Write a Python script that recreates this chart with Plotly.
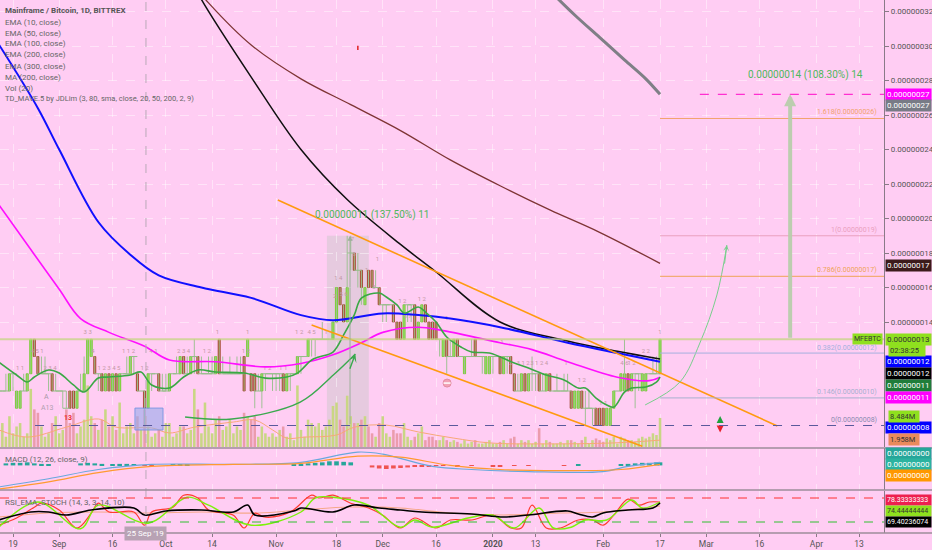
import plotly.graph_objects as go
from datetime import datetime, timedelta

BASE = datetime(2019, 8, 14)


def D(d):
    return BASE + timedelta(days=d)


# Daily candles in satoshi (1e-8 BTC): [open, high, low, close], first row = 2019-08-14
ohlc = [
    [11, 11, 10, 10], [10, 11, 9, 10], [10, 10, 10, 10], [10, 11, 10, 10], [10, 11, 10, 11],
    [11, 11, 10, 11], [9, 10, 9, 10], [9, 10, 9, 10], [10, 11, 10, 10], [10, 11, 10, 11],
    [11, 13, 11, 13], [13, 13, 12, 12], [12, 12, 11, 11], [11, 12, 11, 11], [11, 12, 11, 11],
    [11, 11, 10, 11], [11, 11, 10, 10], [10, 11, 10, 10], [10, 10, 10, 10], [10, 10, 9, 10],
    [9, 10, 9, 9], [10, 10, 9, 9], [10, 10, 9, 9], [9, 10, 9, 10], [10, 11, 10, 10],
    [10, 12, 10, 11], [11, 13, 11, 13], [12, 13, 12, 13], [12, 12, 11, 11], [11, 11, 10, 11],
    [11, 11, 10, 10], [10, 11, 10, 11], [11, 11, 10, 10], [10, 11, 10, 11], [11, 11, 10, 10],
    [10, 11, 10, 11], [11, 11, 11, 11], [11, 12, 11, 11], [11, 12, 11, 12], [12, 12, 11, 12],
    [11, 11, 10, 10], [10, 10, 10, 10], [10, 10, 8, 9], [9, 11, 9, 11], [11, 11, 10, 11],
    [11, 11, 11, 11], [11, 11, 10, 10], [10, 11, 10, 10], [10, 11, 10, 10], [10, 11, 10, 11],
    [11, 11, 11, 11], [11, 12, 11, 11], [11, 12, 11, 12], [12, 12, 11, 11], [11, 12, 11, 11],
    [11, 12, 11, 12], [12, 13, 11, 12], [12, 12, 11, 11], [11, 12, 11, 11], [11, 11, 11, 11],
    [11, 12, 11, 11], [11, 12, 11, 11], [11, 12, 11, 12], [13, 13, 11, 11], [11, 12, 11, 11],
    [11, 11, 11, 11], [11, 12, 11, 11], [11, 11, 11, 11], [11, 12, 11, 11], [11, 12, 11, 11],
    [12, 12, 10, 10], [12, 13, 12, 13], [11, 11, 10, 10], [11, 11, 9, 10], [10, 11, 10, 10],
    [10, 11, 9, 11], [11, 11, 10, 11], [11, 11, 11, 11], [11, 11, 10, 11], [11, 11, 10, 11],
    [11, 11, 10, 11], [11, 11, 10, 10], [10, 11, 10, 11], [11, 11, 10, 11], [11, 11, 11, 11],
    [11, 12, 11, 12], [12, 12, 11, 12], [12, 12, 12, 12], [12, 13, 12, 13], [13, 13, 12, 13],
    [13, 13, 12, 13], [13, 13, 13, 13], [13, 14, 13, 13], [13, 13, 13, 13], [13, 13, 13, 13],
    [13, 14, 13, 14], [14, 16, 14, 16], [16, 16, 15, 15], [15, 15, 14, 14], [14, 19, 14, 16],
    [18, 19, 17, 18], [18, 18, 17, 17], [17, 18, 16, 17], [17, 17, 15, 16], [15, 16, 15, 16],
    [17, 17, 16, 16], [17, 17, 16, 16], [16, 17, 16, 16], [16, 16, 15, 15], [15, 15, 14, 15],
    [15, 15, 14, 15], [15, 15, 15, 15], [15, 15, 14, 14], [14, 14, 13, 13], [14, 14, 13, 13],
    [13, 15, 13, 15], [15, 15, 14, 15], [15, 15, 14, 15], [15, 15, 13, 13], [13, 14, 13, 14],
    [14, 15, 14, 15], [15, 15, 14, 14], [14, 14, 13, 13], [14, 14, 13, 13], [14, 14, 13, 13],
    [13, 13, 12, 13], [12, 13, 12, 13], [13, 13, 11, 12], [12, 13, 12, 12], [12, 13, 12, 13],
    [13, 13, 12, 12], [12, 12, 12, 12], [11, 12, 11, 12], [12, 12, 12, 12], [12, 13, 12, 12],
    [13, 13, 12, 12], [12, 12, 12, 12], [12, 12, 11, 12], [11, 12, 11, 12], [11, 12, 11, 12],
    [12, 12, 11, 12], [12, 12, 12, 12], [12, 12, 11, 11], [11, 12, 11, 12], [12, 12, 11, 12],
    [12, 12, 11, 11], [11, 11, 10, 10], [10, 11, 10, 10], [10, 11, 10, 11], [11, 11, 10, 10],
    [10, 11, 10, 11], [11, 12, 10, 11], [11, 11, 10, 11], [11, 11, 10, 10], [10, 11, 10, 10],
    [10, 11, 10, 11], [11, 11, 10, 10], [10, 10, 10, 10], [10, 11, 10, 10], [10, 10, 10, 10],
    [10, 11, 10, 10], [10, 11, 10, 10], [10, 10, 9, 9], [9, 10, 9, 10], [9, 10, 9, 10],
    [10, 10, 9, 9], [9, 10, 8, 9], [9, 10, 9, 9], [9, 9, 8, 9], [9, 9, 8, 8],
    [9, 9, 8, 8], [9, 9, 8, 8], [8, 9, 8, 9], [8, 9, 8, 9], [9, 10, 9, 10],
    [10, 10, 10, 10], [10, 11, 10, 11], [10, 13, 10, 11], [11, 11, 10, 10], [10, 11, 10, 11],
    [11, 11, 9, 11], [11, 11, 10, 11], [10, 11, 10, 11], [10, 11, 10, 11], [11, 11, 11, 11],
    [11, 12, 11, 11], [11, 12, 11, 11], [11, 13, 11, 13],
]

# Daily volume, millions of MFE
volume_m = [
    6, 6, 7, 3, 9, 4, 6, 7, 3, 4,
    17, 11, 10, 6, 3, 4, 7, 9, 4, 5,
    11, 7, 10, 4, 6, 8, 18, 9, 7, 5,
    8, 11, 6, 9, 5, 13, 4, 6, 7, 4,
    9, 5, 11, 6, 3, 4, 5, 3, 7, 7,
    3, 4, 6, 6, 4, 5, 17, 11, 4, 13,
    6, 4, 8, 9, 5, 6, 8, 4, 6, 5,
    10, 9, 8, 9, 3, 6, 4, 3, 4, 3,
    5, 6, 3, 4, 2, 18, 5, 3, 8, 7,
    6, 7, 5, 6, 8, 12, 13, 8, 6, 15,
    9, 7, 7, 8, 9, 6, 4, 3, 7, 9,
    4, 3, 5, 4, 4, 7, 3, 2, 3, 4,
    6, 2, 3, 3, 2, 2, 3, 2, 1.5, 2,
    1.5, 1, 2, 1, 1.5, 2, 1, 1, 1.5, 2,
    1, 1, 1.5, 2, 1, 2.5, 3, 1, 2, 1.5,
    2, 1, 1.5, 5.5, 1, 2, 1.5, 1, 1, 1.5,
    1, 2, 2, 1.5, 1, 2, 3, 1, 2, 2.5,
    2, 1.5, 2.5, 2, 3, 1, 3, 2.5, 2, 2,
    1.5, 2.5, 3, 2.5, 3, 4, 3.5, 8.5,
]
volma_days = [1, 9, 20, 29, 34, 44, 49, 56, 67, 73, 78, 82, 87, 96, 101, 110, 119, 129, 139, 155, 174, 187]
volma_vals = [5, 2.9, 5.8, 8.2, 5.8, 5.6, 4.1, 5.8, 7.3, 7.9, 5, 2.6, 2.9, 3.5, 5.8, 6.4, 4.4, 2.6, 1.2, 0.9, 1.2, 2.0]

# TD sequential counts printed over the candles: day, price level, text
td_days = [11.8, 15.4, 7, 26, 27.5, 32, 37.5, 42, 44.5, 53, 59.5, 62.5, 71, 70.5, 76.5, 81, 85.5, 89, 93,
           95.5, 96.5, 98, 100.5, 101, 104.5, 106.5, 107.5, 114.5, 116, 120, 127, 142.5, 145, 148.5, 153,
           160.5, 165, 171, 177, 179, 183, 187]
td_price = [12.3, 11.3, 11.3, 13.4, 12.3, 11.3, 12.3, 11.3, 12.3, 12.3, 12.3, 13.4, 13.4, 12.3, 11.3, 11.3,
            13.4, 13.4, 13.4, 15.5, 16.5, 15.6, 18.8, 17.9, 17.0, 16.0, 17.6, 15.2, 14.3, 15.3, 14.2, 12.8,
            11.6, 11.6, 11.6, 11.6, 10.6, 9.3, 11.6, 11.6, 12.3, 13.4]
td_text = ["4 5 1", "2 3 4", "1 1", "3 3", "4", "1 2 3 4 5", "1 1 2", "1 2", "4 1", "2 3 4", "1 2", "1", "1",
           "1 2", "1 2", "1 1", "1 2", "4 5", "1", "2", "1 4", "5 6", "7", "8", "1", "3", "1", "1 2", "6 7", "1 2",
           "1", "1", "2", "3 1 2", "3 1 2 4", "1", "1 2", "1 1", "4 6", "1 2", "2 2", "1"]

# Moving averages (satoshi), read at sample days
ema10_days = [1, 6, 9, 11, 15, 18, 22, 25, 29, 32, 38, 41, 44, 49, 53, 57, 62, 70, 76, 82, 85, 89, 91, 95, 98,
              101, 103, 108, 110, 113, 115, 119, 121, 124, 127, 131, 134, 139, 146, 150, 155, 160, 164, 166,
              169, 172, 174, 177, 179, 183, 186, 187]
ema10 = [11.68, 10.93, 10.52, 10.81, 11.22, 11.04, 10.35, 9.94, 10.75, 10.81, 10.93, 11.1, 10.35, 10.17, 10.81,
         11.22, 11.1, 11.04, 10.75, 10.81, 11.04, 11.8, 11.97, 12.26, 13.25, 14.41, 15.39, 15.68, 15.45, 14.99,
         14.52, 14.87, 14.58, 14.0, 13.13, 12.55, 12.26, 12.2, 11.62, 11.33, 10.93, 10.64, 10.17, 10.17, 9.59,
         9.19, 9.07, 9.94, 10.17, 10.23, 10.52, 10.81]
ema50_days = [1, 10, 18, 24, 32, 42, 49, 62, 76, 86, 95, 103, 109, 119, 126, 142, 151, 161, 175, 184, 187]
ema50 = [20.8, 18.2, 15.9, 14.2, 13.4, 12.6, 11.8, 11.7, 11.4, 11.6, 12.1, 12.8, 13.4, 13.7, 13.5, 12.8, 12.4,
         11.7, 10.8, 10.6, 10.8]
ema100_days = [1, 12, 18, 29, 38, 46, 58, 72, 86, 95, 109, 119, 128, 142, 161, 175, 187]
ema100 = [30.1, 26.4, 24.0, 19.8, 17.9, 16.7, 16.0, 15.4, 14.4, 14.1, 14.5, 14.4, 14.2, 13.7, 12.8, 12.2, 11.7]
ema200_days = [55, 58, 72, 86, 99, 114, 124, 142, 161, 175, 187]
ema200 = [33.9, 32.7, 28.2, 24.0, 21.1, 18.5, 16.9, 14.0, 12.9, 12.3, 11.85]
ema300_days = [56, 60, 72, 86, 100, 114, 128, 142, 156, 170, 187]
ema300 = [33.5, 32.5, 30.06, 28.1, 26.6, 25.1, 23.4, 21.9, 20.5, 19.2, 17.4]
ma200_days = [157, 163, 170, 177, 183, 187]
ma200 = [33.0, 31.8, 30.5, 29.2, 28.1, 27.2]

# MACD pane (units of 1e-10 BTC)
macd_days = [1, 15, 29, 44, 67, 86, 102, 109, 123, 134, 150, 171, 178, 187]
macd_line = [-2.1, -1.3, -0.4, 0.1, 0.1, 0.3, 1.3, 1.1, -0.1, -0.4, -0.6, -0.6, -0.1, 0.3]
signal_days = [1, 15, 29, 44, 67, 86, 102, 114, 128, 142, 159, 176, 187]
signal_line = [-2.3, -1.6, -0.7, -0.1, 0.1, 0.2, 0.9, 0.8, 0.0, -0.4, -0.5, -0.4, 0.1]
hist_days = [3, 5, 7, 9, 11, 13, 15, 24, 26, 28, 30, 33, 35, 37, 39, 42, 44, 50, 52, 54, 84, 86, 88, 90, 92, 94,
             96, 98, 100, 106, 108, 110, 112, 114, 116, 118, 120, 122, 124, 126, 130, 134, 140, 142, 146, 150,
             160, 164, 176, 178, 180, 182, 184, 186, 187]
hist_vals = [0.2, 0.25, 0.25, 0.3, 0.2, 0.15, 0.1, 0.2, 0.25, 0.2, 0.15, 0.1, 0.15, 0.15, 0.1, -0.05, -0.05, 0.1,
             0.1, 0.05, 0.1, 0.15, 0.2, 0.25, 0.3, 0.4, 0.4, 0.35, 0.3, -0.2, -0.3, -0.35, -0.3, -0.25, -0.2,
             -0.15, -0.1, -0.1, -0.05, -0.05, -0.1, -0.05, -0.1, -0.1, -0.05, -0.05, -0.05, 0.05, 0.1, 0.15,
             0.2, 0.25, 0.25, 0.3, 0.3]

# RSI / stochastic pane (0-100)
stk_days = [1, 6, 11, 13, 18, 23, 27, 29, 32, 39, 42, 44, 50, 53, 57, 60, 67, 70, 73, 76, 83, 89, 91, 95, 100,
            105, 109, 114, 118, 124, 128, 134, 140, 145, 148, 151, 155, 159, 164, 168, 171, 174, 178, 181, 184, 187]
stoch_k = [12, 30, 57, 67, 50, 5, 42, 67, 45, 45, 12, 45, 57, 87, 80, 50, 37, 5, 42, 32, 45, 87, 80, 87, 67, 55,
           37, 5, 30, 5, 25, 25, 37, 5, 5, 62, 5, 5, 25, 25, 12, 37, 77, 62, 70, 70]
std_days = [1, 12, 24, 29, 43, 54, 60, 72, 86, 90, 95, 105, 114, 118, 123, 133, 140, 146, 153, 157, 162, 166,
            172, 179, 182, 187]
stoch_d = [7, 70, 3, 62, 17, 82, 62, 12, 45, 80, 82, 62, 7, 25, 7, 30, 37, 5, 55, 5, 7, 25, 25, 75, 55, 70]
rsi_days = [1, 10, 15, 20, 27, 39, 42, 48, 58, 67, 71, 73, 84, 86, 95, 101, 108, 114, 120, 134, 143, 150, 161,
            164, 168, 171, 178, 185, 187]
rsi_ema = [25, 45, 45, 37.5, 50, 55, 37.5, 47.5, 50, 45, 62.5, 37.5, 47.5, 55, 45, 62.5, 55, 50, 45, 40, 32.5,
           37.5, 47.5, 40, 32.5, 42.5, 50, 55, 67.5]
rsi2_days = [1, 15, 29, 43, 58, 74, 86, 100, 114, 128, 143, 159, 171, 187]
rsi_slow = [32.5, 42.5, 45, 42.5, 45, 42.5, 50, 57.5, 55, 42.5, 37.5, 42.5, 45, 60]

tick_dates = ["2019-08-19", "2019-09-01", "2019-09-16", "2019-10-01", "2019-10-14", "2019-11-01", "2019-11-18",
              "2019-12-01", "2019-12-16", "2020-01-01", "2020-01-13", "2020-02-01", "2020-02-17", "2020-03-01",
              "2020-03-16", "2020-04-01", "2020-04-13"]
tick_text = ["19", "Sep", "16", "Oct", "14", "Nov", "18", "Dec", "16", "<b>2020</b>", "13", "Feb", "17", "Mar",
             "16", "Apr", "13"]
price_ticks = [14, 16, 18, 20, 22, 24, 26, 28, 30, 32]

fib_levels = [(1.618, 25.8, "#f2a36e", "1.618(0.00000026)"), (1, 19, "#eaa0be", "1(0.00000019)"),
              (0.786, 16.65, "#efa457", "0.786(0.00000017)"), (0.382, 12.2, "#a5b0de", "0.382(0.00000012)"),
              (0.146, 9.6, "#a8b0cf", "0.146(0.00000010)"), (0, 8, "#8a8ab0", "0(0.00000008)")]

# ---------------------------------------------------------------------------
BG = "#ffcdf3"
FONT = "Roboto, Liberation Sans, Arial"
W, H = 932, 550
XR = 884 / W
DAYMS = 86400000


def py(p):
    return 1 - p / H


dates = [D(i) for i in range(len(ohlc))]
O = [r[0] for r in ohlc]
Hh = [r[1] for r in ohlc]
L = [r[2] for r in ohlc]
C = [r[3] for r in ohlc]

fig = go.Figure()

# volume (base axis of main pane)
vcol = []
prev = C[0]
for o, c in zip(O, C):
    up = c > o or (c == o and c >= prev)
    vcol.append("#c9d684" if up else "#eb9cad")
    prev = c
fig.add_trace(go.Bar(x=dates, y=volume_m, width=0.72 * DAYMS, marker=dict(color=vcol, line=dict(width=0)),
                     xaxis="x", yaxis="y", hoverinfo="skip"))
fig.add_trace(go.Scatter(x=[D(d) for d in volma_days], y=volma_vals, mode="lines",
                         line=dict(color="#f7a978", width=1, shape="spline"),
                         xaxis="x", yaxis="y", hoverinfo="skip"))

# wicks
wx, wy = [], []
for d, h, l in zip(dates, Hh, L):
    wx += [d, d, None]
    wy += [l, h, None]
fig.add_trace(go.Scatter(x=wx, y=wy, mode="lines", line=dict(color="#9fc193", width=1), xaxis="x", yaxis="y2",
                         hoverinfo="skip"))
# bodies
ux = [d for d, o, c in zip(dates, O, C) if c > o]
uy = [c - o for o, c in zip(O, C) if c > o]
ub = [o for o, c in zip(O, C) if c > o]
dx = [d for d, o, c in zip(dates, O, C) if c < o]
dy = [o - c for o, c in zip(O, C) if c < o]
db = [c for o, c in zip(O, C) if c < o]
fig.add_trace(go.Bar(x=ux, y=uy, base=ub, width=0.62 * DAYMS,
                     marker=dict(color="#7dfb1c", line=dict(color="#5cb816", width=0.6)),
                     xaxis="x", yaxis="y2", hoverinfo="skip"))
fig.add_trace(go.Bar(x=dx, y=dy, base=db, width=0.62 * DAYMS,
                     marker=dict(color="#b9461c", line=dict(color="#8a2f0e", width=0.6)),
                     xaxis="x", yaxis="y2", hoverinfo="skip"))
zx = [d for d, o, c in zip(dates, O, C) if c == o]
zy = [c for o, c in zip(O, C) if c == o]
fig.add_trace(go.Scatter(x=zx, y=zy, mode="markers",
                         marker=dict(symbol="line-ew", size=5, line=dict(color="#95bd88", width=1)),
                         xaxis="x", yaxis="y2", hoverinfo="skip"))
# TD counts
fig.add_trace(go.Scatter(x=[D(d) for d in td_days], y=td_price, mode="text", text=td_text,
                         textfont=dict(size=6, color="#c49aa6", family=FONT), xaxis="x", yaxis="y2",
                         hoverinfo="skip"))


def line(days, vals, color, width, axis="y2", xa="x", dash=None):
    fig.add_trace(go.Scatter(x=[D(d) for d in days], y=vals, mode="lines",
                             line=dict(color=color, width=width, shape="spline", dash=dash),
                             xaxis=xa, yaxis=axis, hoverinfo="skip"))


line(ma200_days, ma200, "#7f7f86", 3)
line(ema300_days, ema300, "#7e3434", 1.3)
line(ema200_days, ema200, "#101010", 1.5)
line(ema100_days, ema100, "#1010ff", 2)
line(ema50_days, ema50, "#ff10ff", 1.6)
line(ema10_days, ema10, "#3aa845", 1.6)

# drawings on main pane
fig.add_trace(go.Scatter(x=[D(79.5), D(220)], y=[21.07, 7.97], mode="lines", line=dict(color="#ff9a10", width=1.6),
                         xaxis="x", yaxis="y2", hoverinfo="skip"))
fig.add_trace(go.Scatter(x=[D(89), D(182)], y=[13.83, 6.8], mode="lines", line=dict(color="#ff9a10", width=1.6),
                         xaxis="x", yaxis="y2", hoverinfo="skip"))
fig.add_trace(go.Scatter(x=[D(d) for d in [53.4, 66.6, 85.8, 95.1, 101.3]], y=[8.49, 8.38, 9.36, 10.93, 12.15],
                         mode="lines", line=dict(color="#3aa94e", width=1.4, shape="spline"), xaxis="x", yaxis="y2",
                         hoverinfo="skip"))
fig.add_trace(go.Scatter(x=[D(d) for d in [182.8, 192.6, 198.2, 203, 205.8]], y=[9.19, 10.52, 12.78, 15.57, 18.46],
                         mode="lines", line=dict(color="#78cf8c", width=1, shape="spline"), xaxis="x", yaxis="y2",
                         hoverinfo="skip"))
fig.add_trace(go.Scatter(x=[D(203.9)], y=[8.55], mode="markers",
                         marker=dict(symbol="arrow-up", size=7, color="#1fa13c"),
                         xaxis="x", yaxis="y2", hoverinfo="skip"))
fig.add_trace(go.Scatter(x=[D(203.9)], y=[7.6], mode="markers",
                         marker=dict(symbol="arrow-down", size=7, color="#e8202a"),
                         xaxis="x", yaxis="y2", hoverinfo="skip"))
fig.add_trace(go.Scatter(x=[D(127.1)], y=[10.46], mode="markers",
                         marker=dict(symbol="circle", size=8, color="#f2a2b6", line=dict(color="#e48ca2", width=1)),
                         xaxis="x", yaxis="y2", hoverinfo="skip"))
fig.add_trace(go.Scatter(x=[D(127.1)], y=[10.46], mode="markers",
                         marker=dict(symbol="line-ew", size=5, line=dict(color="#ffffff", width=1.5)),
                         xaxis="x", yaxis="y2", hoverinfo="skip"))
fig.add_trace(go.Scatter(x=[D(102)], y=[29.9], mode="markers",
                         marker=dict(symbol="line-ns", size=3, line=dict(color="#e02020", width=1.5)),
                         xaxis="x", yaxis="y2", hoverinfo="skip"))

# MACD pane
fig.add_trace(go.Bar(x=[D(d) for d in hist_days], y=hist_vals, width=1.3 * DAYMS,
                     marker=dict(color=["#26a69a" if v > 0 else "#ef5350" for v in hist_vals], line=dict(width=0)),
                     xaxis="x2", yaxis="y3", hoverinfo="skip"))
line(macd_days, macd_line, "#6aa8dc", 1.2, axis="y3", xa="x2")
line(signal_days, signal_line, "#ff9a30", 1.2, axis="y3", xa="x2")

# RSI pane
line(rsi2_days, rsi_slow, "#f6a88a", 1.2, axis="y4", xa="x3")
line(stk_days, stoch_k, "#ff3b30", 1.2, axis="y4", xa="x3")
line(std_days, stoch_d, "#7cf20a", 1.4, axis="y4", xa="x3")
line(rsi_days, rsi_ema, "#000000", 1.6, axis="y4", xa="x3")

# ---------------------------------------------------------------------------
shapes = []
shapes.append(dict(type="rect", xref="x", yref="y2", x0=D(93.3), x1=D(105.1), y0=6.754, y1=19,
                   fillcolor="rgba(200,200,200,0.45)", line=dict(width=0), layer="below"))
shapes.append(dict(type="rect", xref="x", yref="y2", x0=D(39.3), x1=D(47.2), y0=7.74, y1=9.01,
                   fillcolor="rgba(150,170,235,0.6)", line=dict(color="rgba(120,150,225,0.9)", width=1)))
shapes.append(dict(type="line", xref="paper", yref="y2", x0=0, x1=XR, y0=13, y1=13,
                   line=dict(color="rgba(196,212,128,0.75)", width=2.2)))
shapes.append(dict(type="line", xref="x", yref="y2", x0=D(11.2), x1=D(250), y0=8, y1=8,
                   line=dict(color="#5a5a9c", width=1, dash="dash")))
shapes.append(dict(type="line", xref="x", yref="y2", x0=D(198.2), x1=D(250), y0=27.2, y1=27.2,
                   line=dict(color="#ff2fd0", width=1.2, dash="dash")))
for lv, price, col, lbl in fib_levels:
    if lv != 0:
        shapes.append(dict(type="line", xref="x", yref="y2", x0=D(187), x1=D(250), y0=price, y1=price,
                           line=dict(color=col, width=1)))
shapes.append(dict(type="line", xref="x", yref="paper", x0=D(42.4), x1=D(42.4), y0=py(533), y1=1,
                   line=dict(color="#b9a9b7", width=1, dash="dash")))
shapes.append(dict(type="line", xref="paper", yref="y4", x0=0, x1=XR, y0=80, y1=80,
                   line=dict(color="#ff3030", width=1, dash="dash")))
shapes.append(dict(type="line", xref="paper", yref="y4", x0=0, x1=XR, y0=20, y1=20,
                   line=dict(color="#30c030", width=1, dash="dash")))
for yy in (448, 490, 533):
    shapes.append(dict(type="line", xref="paper", yref="paper", x0=0, x1=1, y0=py(yy), y1=py(yy),
                       line=dict(color="#9c8c9a", width=1.3)))

ann = []


def txt(xp, ypx, s, size=8, color="#555555", bold=False, xanchor="left"):
    ann.append(dict(xref="paper", yref="paper", x=xp / W, y=py(ypx), text=("<b>%s</b>" % s) if bold else s,
                    showarrow=False, xanchor=xanchor, yanchor="middle",
                    font=dict(size=size, color=color, family=FONT)))


txt(3, 10, "Mainframe / Bitcoin, 1D, BITTREX", 8, "#555555", True)
legend_lines = ["EMA (10, close)", "EMA (50, close)", "EMA (100, close)", "EMA (200, close)", "EMA (300, close)",
                "MA (200, close)", "Vol (20)", "TD_MAVE.5 by JDLim (3, 80, sma, close, 20, 50, 200, 2, 9)"]
for i, s in enumerate(legend_lines):
    txt(3, 22 + 11 * i, s, 7.5 if i == 7 else 8, "#666666")
txt(3, 460, "MACD (12, 26, close, 9)", 8, "#666666")
txt(3, 502, "RSI_EMA_STOCH (14, 3, 3, 14, 10)", 8, "#666666")

right_labels = [(94, "0.00000027", "#ff00ff", "#ffffff"), (105, "0.00000027", "#787b86", "#ffffff"),
                (265, "0.00000017", "#3c1b1b", "#ffffff"), (339, "0.00000013", "#8fe01e", "#333333"),
                (361, "0.00000012", "#0000ff", "#ffffff"), (373, "0.00000012", "#000000", "#ffffff"),
                (385, "0.00000011", "#1f7d3a", "#ffffff"), (397, "0.00000011", "#ff00ff", "#ffffff"),
                (427, "0.00000008", "#0000ff", "#ffffff"), (453, "0.00000000", "#26a69a", "#ffffff"),
                (464, "0.00000000", "#2bb3a0", "#ffffff"), (475, "0.00000000", "#ff9800", "#ffffff")]
for ypx, s, bg, fg in right_labels:
    ann.append(dict(xref="paper", yref="paper", x=885 / W, y=py(ypx), text=s, showarrow=False, xanchor="left",
                    yanchor="middle", bgcolor=bg, borderpad=1, width=43, align="left",
                    font=dict(size=8, color=fg, family=FONT)))
for ypx, s, bg, fg in [(500, "78.33333333", "#ee1f4f", "#ffffff"), (511, "74.44444444", "#8fe01e", "#333333"),
                       (522, "69.40236074", "#000000", "#ffffff")]:
    ann.append(dict(xref="paper", yref="paper", x=885 / W, y=py(ypx), text=s, showarrow=False, xanchor="left",
                    yanchor="middle", bgcolor=bg, borderpad=1, width=43, align="left",
                    font=dict(size=7, color=fg, family=FONT)))
for ypx, s, bg, fg, w in [(350, "02:38:25", "#8fe01e", "#333333", 34), (416, "8.484M", "#8fe01e", "#333333", 28),
                          (439, "1.958M", "#ea8a5c", "#333333", 28)]:
    ann.append(dict(xref="paper", yref="paper", x=888 / W, y=py(ypx), text=s, showarrow=False, xanchor="left",
                    yanchor="middle", bgcolor=bg, borderpad=1, width=w, align="left",
                    font=dict(size=7.5, color=fg, family=FONT)))
ann.append(dict(xref="paper", yref="paper", x=883 / W, y=py(339), text="MFEBTC", showarrow=False, xanchor="right",
                yanchor="middle", bgcolor="#8fe01e", borderpad=1, font=dict(size=7, color="#333333", family=FONT)))

for lv, price, col, lbl in fib_levels:
    ann.append(dict(xref="paper", yref="y2", x=879 / W, y=price, text=lbl, showarrow=False, xanchor="right",
                    yanchor="bottom", yshift=-1 if lv == 0.382 else 0,
                    font=dict(size=7, color=col, family=FONT)))

ann.append(dict(xref="x", yref="y2", x=D(99.8), y=19, ax=D(99.8), ay=8, axref="x", ayref="y2", showarrow=True,
                arrowhead=2, arrowsize=1, arrowwidth=1, arrowcolor="#9db09a", text=""))
ann.append(dict(xref="x", yref="y2", x=D(106), y=20.2, text="0.00000011 (137.50%) 11", showarrow=False,
                font=dict(size=10, color="#4fb85c", family=FONT)))
ann.append(dict(xref="x", yref="y2", x=D(223.6), y=27.2, ax=D(223.6), ay=13, axref="x", ayref="y2", showarrow=True,
                arrowhead=2, arrowsize=0.6, arrowwidth=4, arrowcolor="rgba(185,205,172,0.95)", text=""))
ann.append(dict(xref="x", yref="y2", x=D(227.8), y=28.3, text="0.00000014 (108.30%) 14", showarrow=False,
                font=dict(size=10, color="#4fb85c", family=FONT)))
ann.append(dict(xref="x", yref="y2", x=D(101.3), y=12.15, ax=D(99.6), ay=11.2, axref="x", ayref="y2", showarrow=True,
                arrowhead=3, arrowsize=1, arrowwidth=1.4, arrowcolor="#3aa94e", text=""))
ann.append(dict(xref="x", yref="y2", x=D(205.8), y=18.46, ax=D(205.1), ay=17.3, axref="x", ayref="y2", showarrow=True,
                arrowhead=3, arrowsize=1, arrowwidth=1, arrowcolor="#78cf8c", text=""))
ann.append(dict(xref="x", yref="y2", x=D(14.3), y=9.65, text="A", showarrow=False,
                font=dict(size=7, color="#a898a8", family=FONT)))
ann.append(dict(xref="x", yref="y2", x=D(14.6), y=9.0, text="A13", showarrow=False,
                font=dict(size=7, color="#b0a0b0", family=FONT)))
ann.append(dict(xref="x", yref="y2", x=D(20.5), y=8.43, text="<b>13</b>", showarrow=False,
                font=dict(size=7, color="#ee3030", family=FONT)))
ann.append(dict(xref="x", yref="paper", x=D(42.4), y=py(541), text="25 Sep '19", showarrow=False, bgcolor="#b8a2b4",
                borderpad=2, font=dict(size=8, color="#ffffff", family=FONT)))

grid = "rgba(255,255,255,0.45)"
common_x = dict(type="date", range=[D(1.343), D(250)], domain=[0, XR], showgrid=True, gridcolor=grid,
                griddash="dash", gridwidth=1, tickvals=tick_dates, zeroline=False, automargin=False)
fig.update_layout(
    width=W, height=H, margin=dict(l=0, r=0, t=0, b=0, pad=0), paper_bgcolor=BG, plot_bgcolor=BG,
    showlegend=False, barmode="overlay", hovermode=False, font=dict(family=FONT, color="#555555"),
    xaxis=dict(common_x, anchor="y", showticklabels=False),
    xaxis2=dict(common_x, anchor="y3", matches="x", showticklabels=False),
    xaxis3=dict(common_x, anchor="y4", matches="x", ticktext=tick_text, ticks="outside", ticklen=3,
                tickcolor="#8a7a88", tickfont=dict(size=8.5, color="#555555", family=FONT)),
    yaxis=dict(domain=[py(447), 1], range=[0, 447 / 3.42], visible=False, fixedrange=True),
    yaxis2=dict(overlaying="y", anchor="x", side="right", range=[6.754, 32.67], tickvals=price_ticks,
                ticktext=["%.8f" % (p * 1e-8) for p in price_ticks], showgrid=True, gridcolor=grid,
                griddash="dash", ticks="outside", ticklen=4, tickcolor="#8a7a88", showline=True,
                linecolor="#8a7a88", linewidth=1.3, tickfont=dict(size=8, color="#555555", family=FONT),
                zeroline=False, automargin=False),
    yaxis3=dict(domain=[py(490), py(448)], range=[-2.4, 1.7], anchor="x2", side="right", showticklabels=False,
                showgrid=False, zeroline=False, showline=True, linecolor="#8a7a88", linewidth=1.3,
                automargin=False),
    yaxis4=dict(domain=[py(533), py(491)], range=[-7.5, 97.5], anchor="x3", side="right", showticklabels=False,
                showgrid=False, zeroline=False, showline=True, linecolor="#8a7a88", linewidth=1.3,
                automargin=False),
    shapes=shapes, annotations=ann,
)

fig.write_html("out.html", config={"displayModeBar": False})

# remove the browser's default page margin so the figure sits at the window origin
with open("out.html", "r", encoding="utf-8") as f:
    page = f.read()
page = page.replace("<head>", "<head><style>html,body{margin:0;padding:0;overflow:hidden;}</style>", 1)
with open("out.html", "w", encoding="utf-8") as f:
    f.write(page)
